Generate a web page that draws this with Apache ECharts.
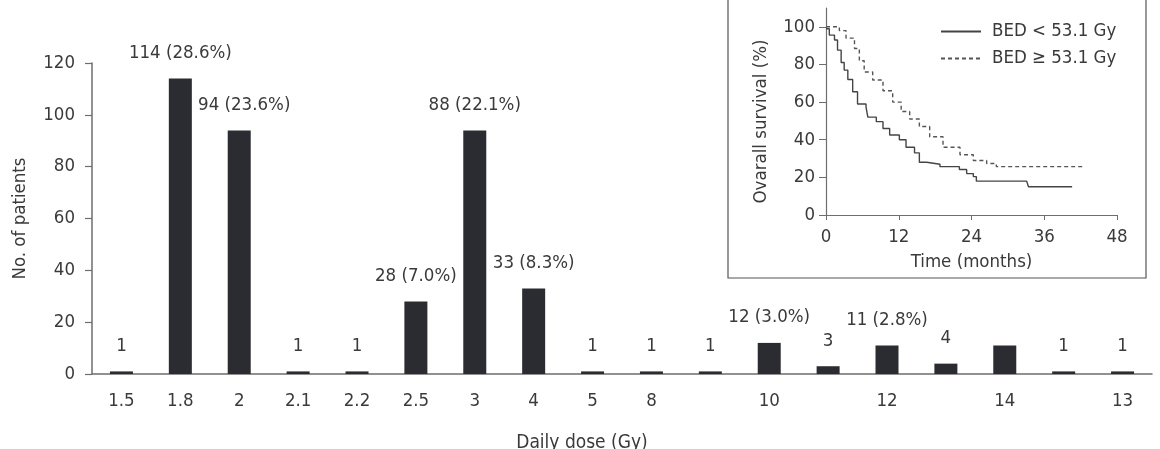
<!DOCTYPE html>
<html>
<head>
<meta charset="utf-8">
<script src="https://cdn.jsdelivr.net/npm/echarts@6/dist/echarts.min.js"></script>
<style>
html,body{margin:0;padding:0;background:#fff;}
#main{width:1160px;height:449px;}
</style>
</head>
<body>
<div id="main"></div>
<script>
/* main bar chart data */
var doseCats = ['1.5','1.8','2','2.1','2.2','2.5','3','4','5','8','','10','','12','','14','','13'];
var patients = [1,114,94,1,1,28,94,33,1,1,1,12,3,11,4,11,1,1];
var barLabels = ['1','114 (28.6%)','94 (23.6%)','1','1','28 (7.0%)','88 (22.1%)','33 (8.3%)','1','1','1','12 (3.0%)','3','11 (2.8%)','4','','1','1'];

/* inset survival curves: [months, %] */
var survLow = [[0,99],[0.55,95.6],[1.4,93],[1.9,87.6],[2.5,81],[3.0,77],[3.6,72],[4.4,65.5],[5.2,59],[6.6,57.5],[6.9,52],[8.3,49.6],[9.4,46],[10.5,42.5],[12.1,40],[13.2,36],[14.6,33],[15.4,28],[16.6,27],[18.8,25.7],[22,24.2],[23.2,22],[24.3,20.4],[24.8,18],[33.1,18],[33.4,15],[40.6,15]];
var survHigh = [[0,100],[2.2,98],[3.3,94],[4.7,88.5],[5.5,82],[6.3,76],[7.7,71.7],[9.4,66],[11.0,60],[12.4,55],[13.8,51],[15.4,47],[17.1,41.6],[19.3,36],[22.1,32],[24.3,29],[26.5,27.4],[28.1,25.7],[42.5,25.7]];
var survTicks = [0,20,40,60,80,100];

var fontName = '"DejaVu Sans Condensed", "Liberation Sans Narrow", sans-serif';
var txtColor = '#3a3a3a';
var axisColor = '#6e6e6e';
var fs = 18.5;

// nudge the 94 label clear of the 1.8 bar
var labelNudge = {2: [5, 0]};
var barData = patients.map(function (v, i) {
    var item = {value: v};
    if (labelNudge[i]) item.label = {offset: labelNudge[i]};
    return item;
});

var myChart = echarts.init(document.getElementById('main'));
var option = {
    backgroundColor: '#fff',
    animation: false,
    textStyle: {fontFamily: fontName, color: txtColor},
    graphic: [
        {
            type: 'rect',
            z: -10,
            shape: {x: 728, y: -2, width: 418, height: 280},
            style: {fill: '#fff', stroke: '#555', lineWidth: 1.2}
        },
        {
            type: 'text',
            x: 582,
            y: 434,
            style: {
                text: 'Daily dose (Gy)',
                fontFamily: fontName,
                fontSize: 19,
                fill: txtColor,
                align: 'center',
                verticalAlign: 'top'
            }
        }
    ],
    legend: {
        left: 940,
        top: 22,
        padding: 0,
        orient: 'vertical',
        itemWidth: 40,
        itemHeight: 14,
        itemGap: 8,
        itemStyle: {opacity: 0},
        textStyle: {fontFamily: fontName, fontSize: fs, color: txtColor, padding: [0,0,0,6]},
        data: ['BED < 53.1 Gy', 'BED \u2265 53.1 Gy']
    },
    grid: [
        {left: 92, right: 8, top: 63, bottom: 75},
        {left: 826, right: 43, top: 8, bottom: 234}
    ],
    xAxis: [
        {
            gridIndex: 0,
            type: 'category',
            data: doseCats,
            axisLine: {lineStyle: {color: axisColor, width: 1.5}},
            axisTick: {show: false},
            axisLabel: {fontSize: fs, color: txtColor, margin: 18, interval: 0}
        },
        {
            gridIndex: 1,
            type: 'value',
            min: 0,
            max: 48,
            interval: 12,
            name: 'Time (months)',
            nameLocation: 'middle',
            nameGap: 38,
            nameTextStyle: {fontSize: fs, color: txtColor},
            axisLine: {onZero: false, lineStyle: {color: axisColor, width: 1.2}},
            axisTick: {show: true, length: 5, lineStyle: {color: axisColor}},
            axisLabel: {fontSize: fs, color: txtColor, margin: 13},
            splitLine: {show: false}
        }
    ],
    yAxis: [
        {
            gridIndex: 0,
            type: 'value',
            min: 0,
            max: 120,
            interval: 20,
            name: 'No. of patients',
            nameLocation: 'middle',
            nameGap: 62,
            nameTextStyle: {fontSize: fs, color: txtColor},
            axisLine: {show: true, lineStyle: {color: axisColor, width: 1.5}},
            axisTick: {show: true, length: 7, lineStyle: {color: axisColor, width: 1.2}},
            axisLabel: {fontSize: fs, color: txtColor, margin: 17},
            splitLine: {show: false}
        },
        {
            gridIndex: 1,
            type: 'value',
            min: 0,
            max: 110,
            name: 'Ovarall survival (%)',
            nameLocation: 'middle',
            nameGap: 55,
            nameTextStyle: {fontSize: fs, color: txtColor, padding: [0, 20, 0, 0]},
            axisLine: {show: true, lineStyle: {color: axisColor, width: 1.2}},
            axisTick: {show: true, length: 7, customValues: survTicks, lineStyle: {color: axisColor}},
            axisLabel: {fontSize: fs, color: txtColor, margin: 11, customValues: survTicks},
            splitLine: {show: false}
        }
    ],
    series: [
        {
            name: 'patients',
            type: 'bar',
            xAxisIndex: 0,
            yAxisIndex: 0,
            barWidth: 23,
            itemStyle: {color: '#2b2c31'},
            label: {
                show: true,
                position: 'top',
                distance: 16,
                fontSize: fs,
                color: txtColor,
                formatter: function (p) { return barLabels[p.dataIndex]; }
            },
            data: barData
        },
        {
            name: 'BED < 53.1 Gy',
            type: 'line',
            xAxisIndex: 1,
            yAxisIndex: 1,
            step: 'end',
            symbol: 'none',
            lineStyle: {color: '#444', width: 1.4, type: 'solid'},
            itemStyle: {color: '#444'},
            data: survLow
        },
        {
            name: 'BED \u2265 53.1 Gy',
            type: 'line',
            xAxisIndex: 1,
            yAxisIndex: 1,
            step: 'end',
            symbol: 'none',
            lineStyle: {color: '#555', width: 1.4, type: [4, 3]},
            itemStyle: {color: '#555'},
            data: survHigh
        }
    ]
};
myChart.setOption(option);
</script>
</body>
</html>
